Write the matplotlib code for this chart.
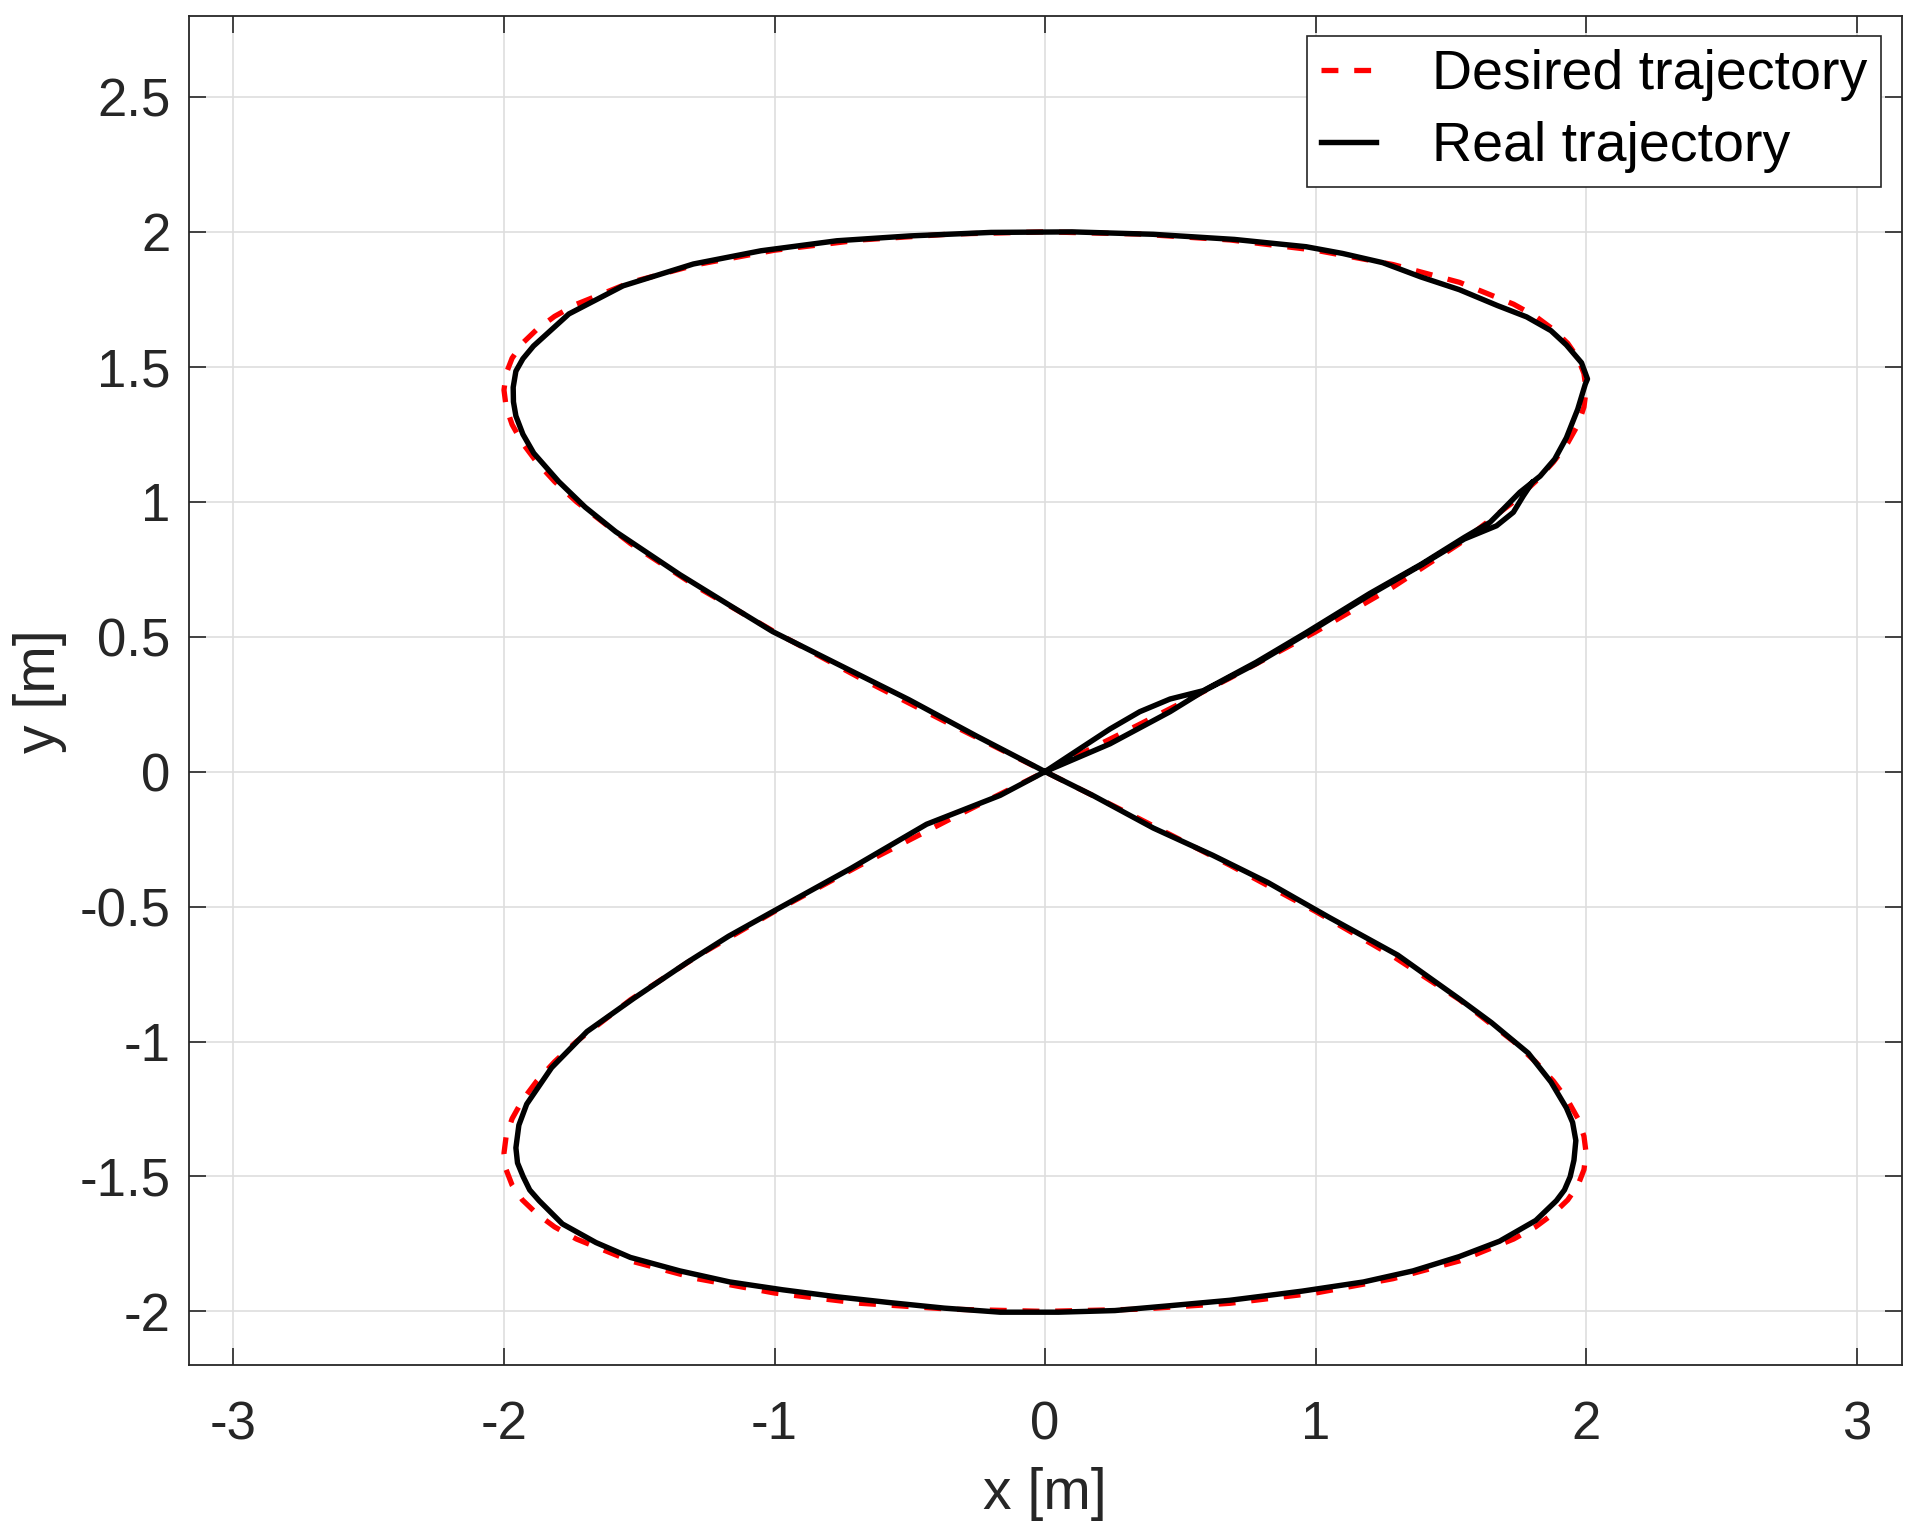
import matplotlib
matplotlib.use("Agg")
import matplotlib.pyplot as plt
from matplotlib.ticker import FuncFormatter

plt.rcParams['font.family'] = ['Liberation Sans', 'DejaVu Sans']
plt.rcParams['axes.unicode_minus'] = False

# desired figure-eight path [m]
des_x = [0.000, 0.347, 0.684, 1.000, 1.286, 1.532, 1.732, 1.813, 1.879, 1.932, 1.970, 1.992, 2.000,
         1.992, 1.970, 1.932, 1.879, 1.813, 1.732, 1.532, 1.286, 1.000, 0.684, 0.347,
         0.000, -0.347, -0.684, -1.000, -1.286, -1.532, -1.732, -1.813, -1.879, -1.932, -1.970, -1.992, -2.000,
         -1.992, -1.970, -1.932, -1.879, -1.813, -1.732, -1.532, -1.286, -1.000, -0.684, -0.347,
         0.000, 0.347, 0.684, 1.000, 1.286, 1.532, 1.732, 1.813, 1.879, 1.932, 1.970, 1.992, 2.000,
         1.992, 1.970, 1.932, 1.879, 1.813, 1.732, 1.532, 1.286, 1.000, 0.684, 0.347,
         0.000, -0.347, -0.684, -1.000, -1.286, -1.532, -1.732, -1.813, -1.879, -1.932, -1.970, -1.992, -2.000,
         -1.992, -1.970, -1.932, -1.879, -1.813, -1.732, -1.532, -1.286, -1.000, -0.684, -0.347, 0.000]
des_y = [0.000, 0.174, 0.347, 0.518, 0.684, 0.845, 1.000, 1.075, 1.147, 1.218, 1.286, 1.351, 1.414,
         1.475, 1.532, 1.587, 1.638, 1.687, 1.732, 1.813, 1.879, 1.932, 1.970, 1.992,
         2.000, 1.992, 1.970, 1.932, 1.879, 1.813, 1.732, 1.687, 1.638, 1.587, 1.532, 1.475, 1.414,
         1.351, 1.286, 1.218, 1.147, 1.075, 1.000, 0.845, 0.684, 0.518, 0.347, 0.174,
         0.000, -0.174, -0.347, -0.518, -0.684, -0.845, -1.000, -1.075, -1.147, -1.218, -1.286, -1.351, -1.414,
         -1.475, -1.532, -1.587, -1.638, -1.687, -1.732, -1.813, -1.879, -1.932, -1.970, -1.992,
         -2.000, -1.992, -1.970, -1.932, -1.879, -1.813, -1.732, -1.687, -1.638, -1.587, -1.532, -1.475, -1.414,
         -1.351, -1.286, -1.218, -1.147, -1.075, -1.000, -0.845, -0.684, -0.518, -0.347, -0.174, 0.000]

# measured path [m]
real_x = [0.000, 0.100, 0.240, 0.350, 0.462, 0.585, 0.780, 0.965, 1.200, 1.390,
          1.550, 1.645, 1.694, 1.755, 1.830, 1.884, 1.927, 1.969, 1.997, 2.005,
          1.983, 1.927, 1.870, 1.780, 1.672, 1.531, 1.389, 1.248, 1.100, 0.965,
          0.700, 0.400, 0.100, -0.200, -0.500, -0.770, -1.050, -1.300, -1.560, -1.760,
          -1.891, -1.930, -1.956, -1.966, -1.965, -1.956, -1.930, -1.890, -1.797, -1.700,
          -1.587, -1.350, -1.180, -1.007, -0.750, -0.504, -0.250, 0.000, 0.180, 0.400,
          0.620, 0.824, 1.050, 1.304, 1.531, 1.650, 1.786, 1.870, 1.927, 1.950,
          1.962, 1.955, 1.941, 1.920, 1.890, 1.814, 1.680, 1.531, 1.360, 1.177,
          0.950, 0.682, 0.450, 0.258, 0.050, -0.166, -0.372, -0.569, -0.769, -0.970,
          -1.165, -1.350, -1.533, -1.660, -1.784, -1.870, -1.905, -1.929, -1.950, -1.956,
          -1.945, -1.916, -1.824, -1.693, -1.520, -1.323, -1.170, -1.007, -0.720, -0.438,
          -0.166, 0.000, 0.240, 0.462, 0.585, 0.780, 0.965, 1.200, 1.390, 1.550,
          1.669, 1.731, 1.768, 1.800]
real_y = [0.000, 0.066, 0.158, 0.222, 0.269, 0.300, 0.405, 0.515, 0.660, 0.768,
          0.868, 0.924, 0.973, 1.035, 1.095, 1.158, 1.237, 1.343, 1.436, 1.455,
          1.515, 1.581, 1.634, 1.685, 1.727, 1.786, 1.833, 1.886, 1.920, 1.945,
          1.972, 1.991, 2.000, 1.998, 1.985, 1.967, 1.930, 1.881, 1.800, 1.696,
          1.577, 1.530, 1.484, 1.424, 1.370, 1.318, 1.250, 1.180, 1.074, 0.980,
          0.889, 0.730, 0.625, 0.519, 0.390, 0.267, 0.130, 0.000, -0.090, -0.209,
          -0.310, -0.411, -0.540, -0.680, -0.842, -0.930, -1.043, -1.150, -1.246, -1.300,
          -1.367, -1.440, -1.501, -1.550, -1.590, -1.663, -1.740, -1.797, -1.850, -1.891,
          -1.925, -1.959, -1.980, -1.997, -2.003, -2.003, -1.988, -1.968, -1.946, -1.920,
          -1.891, -1.850, -1.800, -1.745, -1.676, -1.590, -1.550, -1.501, -1.450, -1.394,
          -1.310, -1.232, -1.097, -0.963, -0.840, -0.707, -0.610, -0.519, -0.360, -0.195,
          -0.088, 0.000, 0.103, 0.222, 0.298, 0.400, 0.510, 0.655, 0.765, 0.862,
          0.911, 0.961, 1.022, 1.070]

x_ticks = [-3, -2, -1, 0, 1, 2, 3]
y_ticks = [-2, -1.5, -1, -0.5, 0, 0.5, 1, 1.5, 2, 2.5]

axc = '#262626'
fig = plt.figure(figsize=(19.2, 15.36), dpi=100)
ax = fig.add_axes([0.0982, 0.1111, 0.8922, 0.8785])

ax.plot(des_x, des_y, color='red', lw=3.8, linestyle=(0, (3.2, 3.0)),
        label='Desired trajectory')
ax.plot(real_x, real_y, color='black', lw=3.9, solid_joinstyle='round',
        label='Real trajectory')

ax.set_xlim(-3.166, 3.166)
ax.set_ylim(-2.2, 2.8)
ax.set_xticks(x_ticks)
ax.set_yticks(y_ticks)
ax.xaxis.set_major_formatter(FuncFormatter(lambda v, p: f'{v:g}'))
ax.yaxis.set_major_formatter(FuncFormatter(lambda v, p: f'{v:g}'))
ax.grid(True, color='#dedede', lw=1.2)
ax.set_axisbelow(True)
for s in ax.spines.values():
    s.set_color(axc)
    s.set_linewidth(1.3)
ax.tick_params(direction='in', length=12, width=1.2, colors=axc,
               top=True, right=True, labelsize=38, labelcolor='#262626')
ax.tick_params(axis='x', pad=25)
ax.tick_params(axis='y', pad=13)

ax.set_xlabel('x [m]', fontsize=41, color='#262626', va='center')
ax.xaxis.set_label_coords(0.5, -0.095)
ax.set_ylabel('y [m]', fontsize=41, color='#262626', va='center')
ax.yaxis.set_label_coords(-0.087, 0.5)

leg = ax.legend(loc='upper right', bbox_to_anchor=(0.988, 0.9855),
                borderaxespad=0, fontsize=40, fancybox=False,
                edgecolor=axc, framealpha=1, borderpad=0.25,
                labelspacing=0.36, handlelength=1.0, handletextpad=1.0)
leg.get_frame().set_linewidth(1.2)

fig.savefig('out.png', dpi=100)
